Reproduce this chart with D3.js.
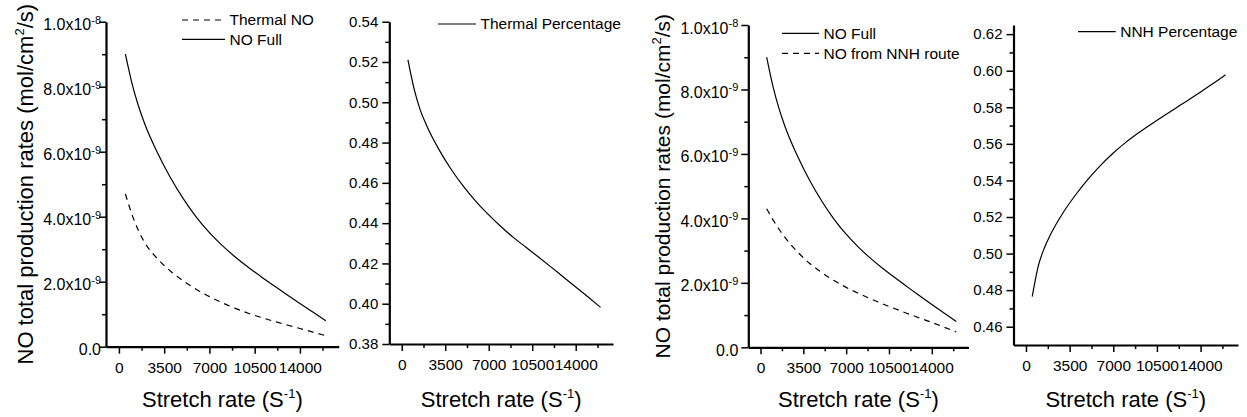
<!DOCTYPE html>
<html><head><meta charset="utf-8">
<script src="https://cdn.jsdelivr.net/npm/d3@7"></script>
<style>
body{margin:0;background:#fff}
svg{display:block}
text{font-family:"Liberation Sans",Arial,sans-serif;fill:#000}
</style>
</head><body><svg id="c" width="1247" height="417"></svg>
<script>
// ---- data ----
const stretchRate = [500, 1000, 1500, 2000, 3000, 4000, 5000, 6000, 7000, 8000, 9000, 10000, 11000, 12000, 13000, 14000, 15000, 16000];
// NO production rates, in units of 1e-9 mol/cm2/s
const noFull    = [9.00, 8.12, 7.42, 6.85, 5.95, 5.19, 4.54, 3.98, 3.51, 3.11, 2.76, 2.445, 2.155, 1.875, 1.60, 1.33, 1.065, 0.80];
const thermalNO = [4.70, 4.08, 3.58, 3.20, 2.70, 2.32, 2.02, 1.76, 1.54, 1.35, 1.18, 1.03, 0.90, 0.78, 0.67, 0.56, 0.45, 0.34];
const nnhNO     = [4.30, 3.97, 3.67, 3.41, 2.97, 2.61, 2.32, 2.07, 1.86, 1.675, 1.505, 1.345, 1.195, 1.05, 0.91, 0.77, 0.625, 0.475];
const thermalPct = [0.521, 0.5065, 0.496, 0.4885, 0.4765, 0.4665, 0.458, 0.4506, 0.4441, 0.4382, 0.4328, 0.4280, 0.4232, 0.4183, 0.4133, 0.4083, 0.4033, 0.3982];
const nnhPct     = [0.4765, 0.4935, 0.5035, 0.5108, 0.5226, 0.5323, 0.5408, 0.5484, 0.5550, 0.5608, 0.5659, 0.5706, 0.5751, 0.5795, 0.5839, 0.5884, 0.5930, 0.5978];

const xMajor = [0, 3500, 7000, 10500, 14000];
const xMinor = [1750, 5250, 8750, 12250, 15750];
const sciMajor = [0, 2e-9, 4e-9, 6e-9, 8e-9, 1e-8];
const sciMinor = [1e-9, 3e-9, 5e-9, 7e-9, 9e-9];
const thermalMajor = [0.38, 0.40, 0.42, 0.44, 0.46, 0.48, 0.50, 0.52, 0.54];
const thermalMinor = [0.39, 0.41, 0.43, 0.45, 0.47, 0.49, 0.51, 0.53];
const nnhMajor = [0.46, 0.48, 0.50, 0.52, 0.54, 0.56, 0.58, 0.60, 0.62];
const nnhMinor = [0.47, 0.49, 0.51, 0.53, 0.55, 0.57, 0.59, 0.61];

const xTitle = "Stretch rate (S";
const yTitle = "NO total production rates (mol/cm";

const FONT = '"Liberation Sans",Arial,sans-serif';
const DASH = "6,5";
const svg = d3.select("#c");
const line = (x, y) => d3.line().x(d => x(d[0])).y(d => y(d[1])).curve(d3.curveMonotoneX);
const e9 = a => a.map(v => v * 1e-9);

const panels = [
  {l:106, r:338.7, t:21.7, b:346.7, yd:[0,1e-8], ymaj:sciMajor, ymin:sciMinor, sci:true, lblEnd:-5,
   series:[{v:e9(thermalNO), dash:true},{v:e9(noFull), dash:false}],
   legend:[{x1:182,x2:225,y:20,text:"Thermal NO",dash:true},{x1:182,x2:225,y:39.3,text:"NO Full",dash:false}],
   ytitle:{x:33.3, size:22}},
  {l:389.3, r:613, t:21.7, b:344, yd:[0.38,0.54], ymaj:thermalMajor, ymin:thermalMinor, sci:false, lblEnd:-11,
   series:[{v:thermalPct, dash:false}],
   legend:[{x1:438,x2:476,y:24,text:"Thermal Percentage",dash:false}]},
  {l:748.3, r:968.5, t:25, b:347.3, yd:[0,1e-8], ymaj:sciMajor, ymin:sciMinor, sci:true, lblEnd:-10,
   series:[{v:e9(noFull), dash:false},{v:e9(nnhNO), dash:true}],
   legend:[{x1:782,x2:819,y:33.3,text:"NO Full",dash:false},{x1:782,x2:819,y:53.3,text:"NO from NNH route",dash:true}],
   ytitle:{x:670, size:21}},
  {l:1013.5, r:1238, t:25, b:345, yd:[0.45,0.625], ymaj:nnhMajor, ymin:nnhMinor, sci:false, lblEnd:-11,
   series:[{v:nnhPct, dash:false}],
   legend:[{x1:1078,x2:1115.7,y:31.7,text:"NNH Percentage",dash:false}]}
];

panels.forEach(p => {
  const x = d3.scaleLinear().domain([-1000, 17000]).range([p.l, p.r]);
  const y = d3.scaleLinear().domain(p.yd).range([p.b, p.t]);
  const g = svg.append("g");

  // minor ticks
  g.append("g").attr("transform", `translate(0,${p.b})`)
    .call(d3.axisBottom(x).tickValues(xMinor).tickSize(4).tickSizeOuter(0).tickFormat(""))
    .call(a => a.select(".domain").remove())
    .call(a => a.selectAll("line").attr("stroke", "#000").attr("stroke-width", 1.5));
  g.append("g").attr("transform", `translate(${p.l},0)`)
    .call(d3.axisLeft(y).tickValues(p.ymin).tickSize(4).tickSizeOuter(0).tickFormat(""))
    .call(a => a.select(".domain").remove())
    .call(a => a.selectAll("line").attr("stroke", "#000").attr("stroke-width", 1.5));

  // major x axis
  const xa = g.append("g").attr("transform", `translate(0,${p.b})`)
    .call(d3.axisBottom(x).tickValues(xMajor).tickSize(7).tickSizeOuter(0).tickFormat(d3.format("d")));
  xa.select(".domain").attr("stroke", "#000").attr("stroke-width", 2.2);
  xa.selectAll("line").attr("stroke", "#000").attr("stroke-width", 1.5);
  xa.selectAll("text").attr("y", 15).attr("dy", "0.71em")
    .style("font-size", "15.5px").style("font-family", FONT).attr("fill", "#000");

  // major y axis
  const ya = g.append("g").attr("transform", `translate(${p.l},0)`)
    .call(d3.axisLeft(y).tickValues(p.ymaj).tickSize(7).tickSizeOuter(0).tickFormat(d3.format(".2f")));
  ya.select(".domain").attr("stroke", "#000").attr("stroke-width", 2.2);
  ya.selectAll("line").attr("stroke", "#000").attr("stroke-width", 1.5);
  ya.selectAll("text").style("font-size", p.sci ? "16px" : "15px").style("font-family", FONT)
    .attr("fill", "#000").attr("x", p.lblEnd);
  if (p.sci) {
    ya.selectAll("text").each(function(d) {
      const t = d3.select(this).text(null).attr("dy", "0.5em");
      if (d === 0) { t.text("0.0"); return; }
      const exp = Math.floor(Math.log10(d) + 1e-9);
      const mant = d / Math.pow(10, exp);
      t.append("tspan").text(mant.toFixed(1) + "x10");
      t.append("tspan").attr("dy", "-0.6em").style("font-size", "11px").text(String(exp));
    });
  }

  // data lines
  p.series.forEach(s => {
    g.append("path")
      .datum(stretchRate.map((v, i) => [v, s.v[i]]))
      .attr("fill", "none").attr("stroke", "#000").attr("stroke-width", 1.2)
      .attr("stroke-dasharray", s.dash ? DASH : null)
      .attr("d", line(x, y));
  });

  // legend
  p.legend.forEach(lg => {
    g.append("line").attr("x1", lg.x1).attr("x2", lg.x2).attr("y1", lg.y).attr("y2", lg.y)
      .attr("stroke", "#000").attr("stroke-width", 1.2)
      .attr("stroke-dasharray", lg.dash ? DASH : null);
    g.append("text").attr("x", lg.x2 + 4.5).attr("y", lg.y).attr("dy", "0.35em")
      .style("font-size", "15.5px").text(lg.text);
  });

  // x title
  const xt = g.append("text").attr("x", (p.l + p.r) / 2).attr("y", 407)
    .attr("text-anchor", "middle").style("font-size", "22px");
  xt.append("tspan").text(xTitle);
  xt.append("tspan").attr("dy", "-9").style("font-size", "13px").text("-1");
  xt.append("tspan").attr("dy", "9").text(")");

  // y title
  if (p.ytitle) {
    const cy = (p.t + p.b) / 2;
    const yt = g.append("text").attr("transform", `translate(${p.ytitle.x},${cy}) rotate(-90)`)
      .attr("text-anchor", "middle").style("font-size", p.ytitle.size + "px");
    yt.append("tspan").text(yTitle);
    yt.append("tspan").attr("dy", "-9").style("font-size", "13px").text("2");
    yt.append("tspan").attr("dy", "9").text("/s)");
  }
});
</script>
</body></html>
